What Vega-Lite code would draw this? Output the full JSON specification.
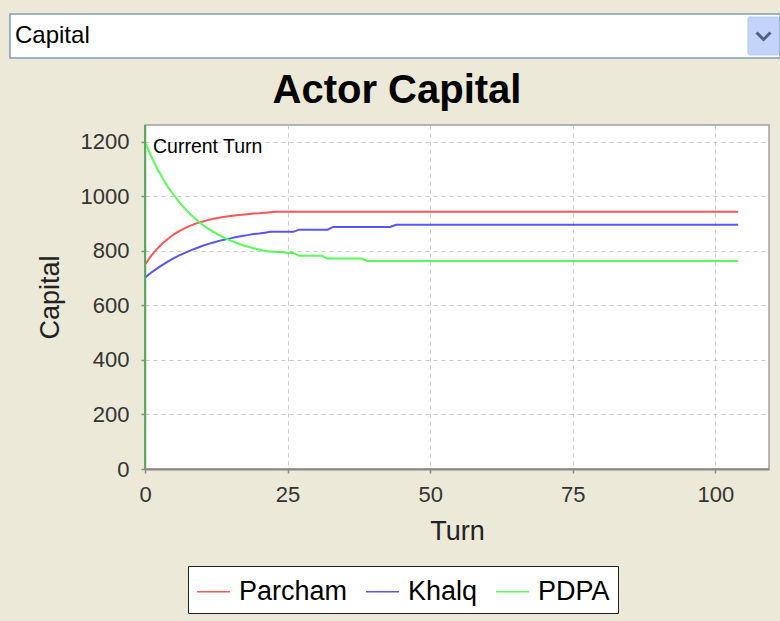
{
  "$schema": "https://vega.github.io/schema/vega-lite/v6.json",
  "background": "#ECE9D8",
  "padding": {"left": 9, "top": 13, "right": 0, "bottom": 20},
  "spacing": 11,
  "config": {"font": "Liberation Sans", "view": {"stroke": null}},
  "vconcat": [
    {
      "width": 624,
      "height": 44,
      "view": {"stroke": null, "fill": null},
      "data": {"values": [{"selected": "Capital"}]},
      "layer": [
        {
          "mark": {"type": "rect", "fill": "white", "stroke": "#7F9DB9", "strokeWidth": 1.5},
          "encoding": {
            "x": {"datum": 0, "type": "quantitative", "scale": {"domain": [0, 1], "range": [-135, 635]}, "axis": null},
            "x2": {"datum": 1},
            "y": {"datum": 0, "type": "quantitative", "scale": {"domain": [0, 1]}, "axis": null},
            "y2": {"datum": 1}
          }
        },
        {
          "mark": {"type": "rect", "fill": "#C3D3FA", "stroke": "#B4C6F2", "cornerRadius": 2},
          "encoding": {
            "x": {"datum": 0.9584, "type": "quantitative"},
            "x2": {"datum": 0.9987},
            "y": {"datum": 0.068, "type": "quantitative"},
            "y2": {"datum": 0.932}
          }
        },
        {
          "mark": {"type": "point", "shape": "M-1,-0.5L0,0.5L1,-0.5", "filled": false, "stroke": "#4D6185", "strokeWidth": 3, "size": 196, "opacity": 1},
          "encoding": {
            "x": {"datum": 0.9786, "type": "quantitative"},
            "y": {"datum": 0.5, "type": "quantitative"}
          }
        },
        {
          "mark": {"type": "text", "align": "left", "baseline": "middle", "fontSize": 24, "color": "black"},
          "encoding": {
            "x": {"datum": 0.0065, "type": "quantitative"},
            "y": {"datum": 0.5, "type": "quantitative"},
            "text": {"field": "selected"}
          }
        }
      ]
    },
    {
      "width": 624,
      "height": 344,
      "title": {"text": "Actor Capital", "fontSize": 40, "fontWeight": "bold", "color": "black", "anchor": "middle", "dx": -60, "offset": 13},
      "view": {"fill": "white", "stroke": "#A0A0A0", "strokeWidth": 1.5},
      "data": {"values": [
        {"turn": 0, "Parcham": 750, "Khalq": 702, "PDPA": 1200},
        {"turn": 1, "Parcham": 780, "Khalq": 719, "PDPA": 1151},
        {"turn": 2, "Parcham": 805, "Khalq": 734, "PDPA": 1108},
        {"turn": 3, "Parcham": 826, "Khalq": 748, "PDPA": 1070},
        {"turn": 4, "Parcham": 844, "Khalq": 761, "PDPA": 1036},
        {"turn": 5, "Parcham": 860, "Khalq": 773, "PDPA": 1006},
        {"turn": 6, "Parcham": 873, "Khalq": 784, "PDPA": 979},
        {"turn": 7, "Parcham": 884, "Khalq": 793, "PDPA": 955},
        {"turn": 8, "Parcham": 893, "Khalq": 802, "PDPA": 934},
        {"turn": 9, "Parcham": 901, "Khalq": 810, "PDPA": 915},
        {"turn": 10, "Parcham": 907, "Khalq": 818, "PDPA": 898},
        {"turn": 11, "Parcham": 913, "Khalq": 825, "PDPA": 883},
        {"turn": 12, "Parcham": 918, "Khalq": 831, "PDPA": 870},
        {"turn": 13, "Parcham": 922, "Khalq": 837, "PDPA": 858},
        {"turn": 14, "Parcham": 925, "Khalq": 842, "PDPA": 847},
        {"turn": 15, "Parcham": 928, "Khalq": 846, "PDPA": 838},
        {"turn": 16, "Parcham": 931, "Khalq": 851, "PDPA": 830},
        {"turn": 17, "Parcham": 933, "Khalq": 855, "PDPA": 822},
        {"turn": 18, "Parcham": 935, "Khalq": 858, "PDPA": 816},
        {"turn": 19, "Parcham": 937, "Khalq": 862, "PDPA": 810},
        {"turn": 20, "Parcham": 938, "Khalq": 864, "PDPA": 805},
        {"turn": 21, "Parcham": 940, "Khalq": 867, "PDPA": 800},
        {"turn": 22, "Parcham": 942, "Khalq": 870, "PDPA": 798},
        {"turn": 23, "Parcham": 944, "Khalq": 870, "PDPA": 796},
        {"turn": 24, "Parcham": 944, "Khalq": 870, "PDPA": 796},
        {"turn": 25, "Parcham": 944, "Khalq": 870, "PDPA": 792},
        {"turn": 26, "Parcham": 944, "Khalq": 870, "PDPA": 792},
        {"turn": 27, "Parcham": 944, "Khalq": 878, "PDPA": 782},
        {"turn": 28, "Parcham": 944, "Khalq": 878, "PDPA": 782},
        {"turn": 29, "Parcham": 944, "Khalq": 878, "PDPA": 782},
        {"turn": 30, "Parcham": 944, "Khalq": 878, "PDPA": 782},
        {"turn": 31, "Parcham": 944, "Khalq": 878, "PDPA": 782},
        {"turn": 32, "Parcham": 944, "Khalq": 878, "PDPA": 772},
        {"turn": 33, "Parcham": 944, "Khalq": 888, "PDPA": 772},
        {"turn": 34, "Parcham": 944, "Khalq": 888, "PDPA": 772},
        {"turn": 35, "Parcham": 944, "Khalq": 888, "PDPA": 772},
        {"turn": 36, "Parcham": 944, "Khalq": 888, "PDPA": 772},
        {"turn": 37, "Parcham": 944, "Khalq": 888, "PDPA": 772},
        {"turn": 38, "Parcham": 944, "Khalq": 888, "PDPA": 772},
        {"turn": 39, "Parcham": 944, "Khalq": 888, "PDPA": 763},
        {"turn": 40, "Parcham": 944, "Khalq": 888, "PDPA": 763},
        {"turn": 41, "Parcham": 944, "Khalq": 888, "PDPA": 763},
        {"turn": 42, "Parcham": 944, "Khalq": 888, "PDPA": 763},
        {"turn": 43, "Parcham": 944, "Khalq": 888, "PDPA": 763},
        {"turn": 44, "Parcham": 944, "Khalq": 896, "PDPA": 763},
        {"turn": 45, "Parcham": 944, "Khalq": 896, "PDPA": 763},
        {"turn": 46, "Parcham": 944, "Khalq": 896, "PDPA": 763},
        {"turn": 47, "Parcham": 944, "Khalq": 896, "PDPA": 763},
        {"turn": 48, "Parcham": 944, "Khalq": 896, "PDPA": 763},
        {"turn": 49, "Parcham": 944, "Khalq": 896, "PDPA": 763},
        {"turn": 50, "Parcham": 944, "Khalq": 896, "PDPA": 763},
        {"turn": 51, "Parcham": 944, "Khalq": 896, "PDPA": 763},
        {"turn": 52, "Parcham": 944, "Khalq": 896, "PDPA": 763},
        {"turn": 53, "Parcham": 944, "Khalq": 896, "PDPA": 763},
        {"turn": 54, "Parcham": 944, "Khalq": 896, "PDPA": 763},
        {"turn": 55, "Parcham": 944, "Khalq": 896, "PDPA": 763},
        {"turn": 56, "Parcham": 944, "Khalq": 896, "PDPA": 763},
        {"turn": 57, "Parcham": 944, "Khalq": 896, "PDPA": 763},
        {"turn": 58, "Parcham": 944, "Khalq": 896, "PDPA": 763},
        {"turn": 59, "Parcham": 944, "Khalq": 896, "PDPA": 763},
        {"turn": 60, "Parcham": 944, "Khalq": 896, "PDPA": 763},
        {"turn": 61, "Parcham": 944, "Khalq": 896, "PDPA": 763},
        {"turn": 62, "Parcham": 944, "Khalq": 896, "PDPA": 763},
        {"turn": 63, "Parcham": 944, "Khalq": 896, "PDPA": 763},
        {"turn": 64, "Parcham": 944, "Khalq": 896, "PDPA": 763},
        {"turn": 65, "Parcham": 944, "Khalq": 896, "PDPA": 763},
        {"turn": 66, "Parcham": 944, "Khalq": 896, "PDPA": 763},
        {"turn": 67, "Parcham": 944, "Khalq": 896, "PDPA": 763},
        {"turn": 68, "Parcham": 944, "Khalq": 896, "PDPA": 763},
        {"turn": 69, "Parcham": 944, "Khalq": 896, "PDPA": 763},
        {"turn": 70, "Parcham": 944, "Khalq": 896, "PDPA": 763},
        {"turn": 71, "Parcham": 944, "Khalq": 896, "PDPA": 763},
        {"turn": 72, "Parcham": 944, "Khalq": 896, "PDPA": 763},
        {"turn": 73, "Parcham": 944, "Khalq": 896, "PDPA": 763},
        {"turn": 74, "Parcham": 944, "Khalq": 896, "PDPA": 763},
        {"turn": 75, "Parcham": 944, "Khalq": 896, "PDPA": 763},
        {"turn": 76, "Parcham": 944, "Khalq": 896, "PDPA": 763},
        {"turn": 77, "Parcham": 944, "Khalq": 896, "PDPA": 763},
        {"turn": 78, "Parcham": 944, "Khalq": 896, "PDPA": 763},
        {"turn": 79, "Parcham": 944, "Khalq": 896, "PDPA": 763},
        {"turn": 80, "Parcham": 944, "Khalq": 896, "PDPA": 763},
        {"turn": 81, "Parcham": 944, "Khalq": 896, "PDPA": 763},
        {"turn": 82, "Parcham": 944, "Khalq": 896, "PDPA": 763},
        {"turn": 83, "Parcham": 944, "Khalq": 896, "PDPA": 763},
        {"turn": 84, "Parcham": 944, "Khalq": 896, "PDPA": 763},
        {"turn": 85, "Parcham": 944, "Khalq": 896, "PDPA": 763},
        {"turn": 86, "Parcham": 944, "Khalq": 896, "PDPA": 763},
        {"turn": 87, "Parcham": 944, "Khalq": 896, "PDPA": 763},
        {"turn": 88, "Parcham": 944, "Khalq": 896, "PDPA": 763},
        {"turn": 89, "Parcham": 944, "Khalq": 896, "PDPA": 763},
        {"turn": 90, "Parcham": 944, "Khalq": 896, "PDPA": 763},
        {"turn": 91, "Parcham": 944, "Khalq": 896, "PDPA": 763},
        {"turn": 92, "Parcham": 944, "Khalq": 896, "PDPA": 763},
        {"turn": 93, "Parcham": 944, "Khalq": 896, "PDPA": 763},
        {"turn": 94, "Parcham": 944, "Khalq": 896, "PDPA": 763},
        {"turn": 95, "Parcham": 944, "Khalq": 896, "PDPA": 763},
        {"turn": 96, "Parcham": 944, "Khalq": 896, "PDPA": 763},
        {"turn": 97, "Parcham": 944, "Khalq": 896, "PDPA": 763},
        {"turn": 98, "Parcham": 944, "Khalq": 896, "PDPA": 763},
        {"turn": 99, "Parcham": 944, "Khalq": 896, "PDPA": 763},
        {"turn": 100, "Parcham": 944, "Khalq": 896, "PDPA": 763},
        {"turn": 101, "Parcham": 944, "Khalq": 896, "PDPA": 763},
        {"turn": 102, "Parcham": 944, "Khalq": 896, "PDPA": 763},
        {"turn": 103, "Parcham": 944, "Khalq": 896, "PDPA": 763},
        {"turn": 104, "Parcham": 944, "Khalq": 896, "PDPA": 763}
      ]},
      "layer": [
        {
          "transform": [{"fold": ["Parcham", "Khalq", "PDPA"], "as": ["actor", "capital"]}],
          "mark": {"type": "line", "strokeWidth": 2},
          "encoding": {
            "x": {
              "field": "turn", "type": "quantitative", "title": "Turn",
              "scale": {"domain": [0, 109.4], "nice": false, "zero": false},
              "axis": {"values": [0, 25, 50, 75, 100], "format": "d", "labelFlush": false, "grid": true, "gridDash": [4, 4], "gridColor": "#C8C8C8", "gridWidth": 1, "domainColor": "#888888", "domainWidth": 2, "tickColor": "#888888", "tickSize": 4, "tickWidth": 1.5, "labelFontSize": 22, "labelColor": "#333333", "labelPadding": 11, "titleFontSize": 27, "titleFontWeight": "normal", "titleColor": "#222222", "titlePadding": 13}
            },
            "y": {
              "field": "capital", "type": "quantitative", "title": "Capital",
              "scale": {"domain": [0, 1262], "nice": false},
              "axis": {"values": [0, 200, 400, 600, 800, 1000, 1200], "format": "d", "grid": true, "gridDash": [4, 4], "gridColor": "#C8C8C8", "gridWidth": 1, "domainColor": "#888888", "domainWidth": 1.5, "tickColor": "#888888", "tickSize": 4, "tickWidth": 1.5, "labelFontSize": 22, "labelColor": "#333333", "labelPadding": 12, "titleFontSize": 27, "titleFontWeight": "normal", "titleColor": "#222222", "titlePadding": 16}
            },
            "color": {
              "field": "actor", "type": "nominal",
              "scale": {"domain": ["Parcham", "Khalq", "PDPA"], "range": ["#FF5555", "#5555FF", "#55FF55"]},
              "legend": {"title": null, "orient": "none", "legendX": 43, "legendY": 552, "direction": "horizontal", "symbolType": "stroke", "symbolSize": 1089, "symbolStrokeWidth": 1.5, "labelFontSize": 27, "labelColor": "black", "labelOffset": 8, "columnPadding": 15, "padding": 8, "strokeColor": "#222222", "fillColor": "white"}
            }
          }
        },
        {
          "data": {"values": [{"turn": 0, "label": "Current Turn"}]},
          "mark": {"type": "rule", "color": "#5DAA5D", "strokeWidth": 2},
          "encoding": {"x": {"field": "turn", "type": "quantitative"}}
        },
        {
          "data": {"values": [{"turn": 0, "label": "Current Turn"}]},
          "mark": {"type": "text", "align": "left", "baseline": "alphabetic", "dx": 8, "dy": 28, "fontSize": 19.5, "color": "black"},
          "encoding": {
            "x": {"field": "turn", "type": "quantitative"},
            "y": {"datum": 1262, "type": "quantitative"},
            "text": {"field": "label"}
          }
        }
      ]
    }
  ]
}
